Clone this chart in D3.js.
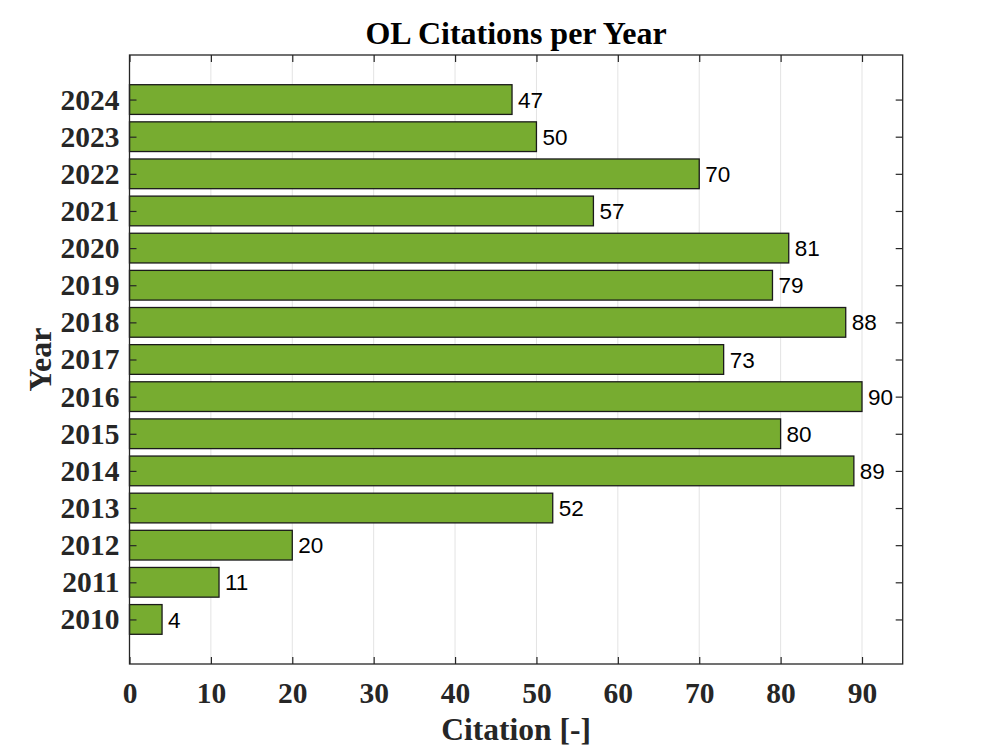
<!DOCTYPE html>
<html>
<head>
<meta charset="utf-8">
<script src="https://cdn.jsdelivr.net/npm/d3@7"></script>
<style>
  html, body { margin: 0; padding: 0; background: #fff; }
  svg { display: block; }
</style>
</head>
<body>
<svg id="chart" width="997" height="747"></svg>
<script>
const years = [2010, 2011, 2012, 2013, 2014, 2015, 2016, 2017, 2018, 2019, 2020, 2021, 2022, 2023, 2024];
const citations = [4, 11, 20, 52, 89, 80, 90, 73, 88, 79, 81, 57, 70, 50, 47];
const xTicks = [0, 10, 20, 30, 40, 50, 60, 70, 80, 90];
const titleText = "OL Citations per Year";
const xLabelText = "Citation [-]";
const yLabelText = "Year";

(function () {
const data = years.map((y, i) => ({ year: y, value: citations[i] }));

const svg = d3.select("#chart");
const pLeft = 129.5, pRight = 902.7, pTop = 55, pBottom = 664;
const axisColor = "#262626";

const x = d3.scaleLinear().domain([0, 95]).range([pLeft, pRight]);
const y = d3.scaleLinear().domain([2008.8, 2025.2]).range([pBottom, pTop]);
const barHalf = 0.4;

// gridlines
svg.append("g").selectAll("line")
  .data(xTicks.filter(t => t > 0))
  .join("line")
  .attr("x1", d => x(d)).attr("x2", d => x(d))
  .attr("y1", pTop).attr("y2", pBottom)
  .attr("stroke", "#e3e3e3").attr("stroke-width", 1);

// bars
svg.append("g").selectAll("rect")
  .data(data)
  .join("rect")
  .attr("x", x(0))
  .attr("y", d => y(d.year + barHalf))
  .attr("width", d => x(d.value) - x(0))
  .attr("height", d => y(d.year - barHalf) - y(d.year + barHalf))
  .attr("fill", "#77AC30")
  .attr("stroke", "#1a1a1a")
  .attr("stroke-width", 1.3);

// value labels
svg.append("g").selectAll("text")
  .data(data)
  .join("text")
  .attr("x", d => x(d.value) + 6)
  .attr("y", d => y(d.year))
  .attr("dy", "0.36em")
  .attr("font-family", "Liberation Sans, Arial, sans-serif")
  .attr("font-size", 22.5)
  .attr("fill", "#000")
  .text(d => d.value);

const tickFont = "Liberation Serif, Times New Roman, serif";
const tickSize = 29.5;

// bottom axis
const gx = svg.append("g").attr("transform", `translate(0,${pBottom})`)
  .call(d3.axisBottom(x).tickValues(xTicks).tickFormat(d3.format("d"))
    .tickSizeInner(-7).tickSizeOuter(0).tickPadding(18));
gx.select(".domain").remove();
gx.selectAll("line").attr("stroke", axisColor).attr("stroke-width", 1.2);
gx.selectAll("text").attr("font-family", tickFont).attr("font-weight", "bold")
  .attr("font-size", tickSize).attr("fill", axisColor);

// top axis (ticks only)
const gxt = svg.append("g").attr("transform", `translate(0,${pTop})`)
  .call(d3.axisTop(x).tickValues(xTicks).tickFormat("")
    .tickSizeInner(-7).tickSizeOuter(0));
gxt.select(".domain").remove();
gxt.selectAll("line").attr("stroke", axisColor).attr("stroke-width", 1.2);

// left axis
const gy = svg.append("g").attr("transform", `translate(${pLeft},0)`)
  .call(d3.axisLeft(y).tickValues(years).tickFormat(d3.format("d"))
    .tickSizeInner(-7).tickSizeOuter(0).tickPadding(10));
gy.select(".domain").remove();
gy.selectAll("line").attr("stroke", axisColor).attr("stroke-width", 1.2);
gy.selectAll("text").attr("font-family", tickFont).attr("font-weight", "bold")
  .attr("font-size", tickSize).attr("fill", axisColor);

// right axis (ticks only)
const gyr = svg.append("g").attr("transform", `translate(${pRight},0)`)
  .call(d3.axisRight(y).tickValues(years).tickFormat("")
    .tickSizeInner(-7).tickSizeOuter(0));
gyr.select(".domain").remove();
gyr.selectAll("line").attr("stroke", axisColor).attr("stroke-width", 1.2);

// box
svg.append("rect")
  .attr("x", pLeft).attr("y", pTop)
  .attr("width", pRight - pLeft).attr("height", pBottom - pTop)
  .attr("fill", "none").attr("stroke", axisColor).attr("stroke-width", 1.3);

// title
svg.append("text")
  .attr("x", (pLeft + pRight) / 2).attr("y", 44)
  .attr("text-anchor", "middle")
  .attr("font-family", tickFont).attr("font-weight", "bold")
  .attr("font-size", 32).attr("fill", "#000")
  .text(titleText);

// x label
svg.append("text")
  .attr("x", (pLeft + pRight) / 2).attr("y", 740)
  .attr("text-anchor", "middle")
  .attr("font-family", tickFont).attr("font-weight", "bold")
  .attr("font-size", 31.5).attr("fill", axisColor)
  .text(xLabelText);

// y label
svg.append("text")
  .attr("transform", `translate(51,${(pTop + pBottom) / 2}) rotate(-90)`)
  .attr("text-anchor", "middle")
  .attr("font-family", tickFont).attr("font-weight", "bold")
  .attr("font-size", 32).attr("fill", axisColor)
  .text(yLabelText);
})();
</script>
</body>
</html>
